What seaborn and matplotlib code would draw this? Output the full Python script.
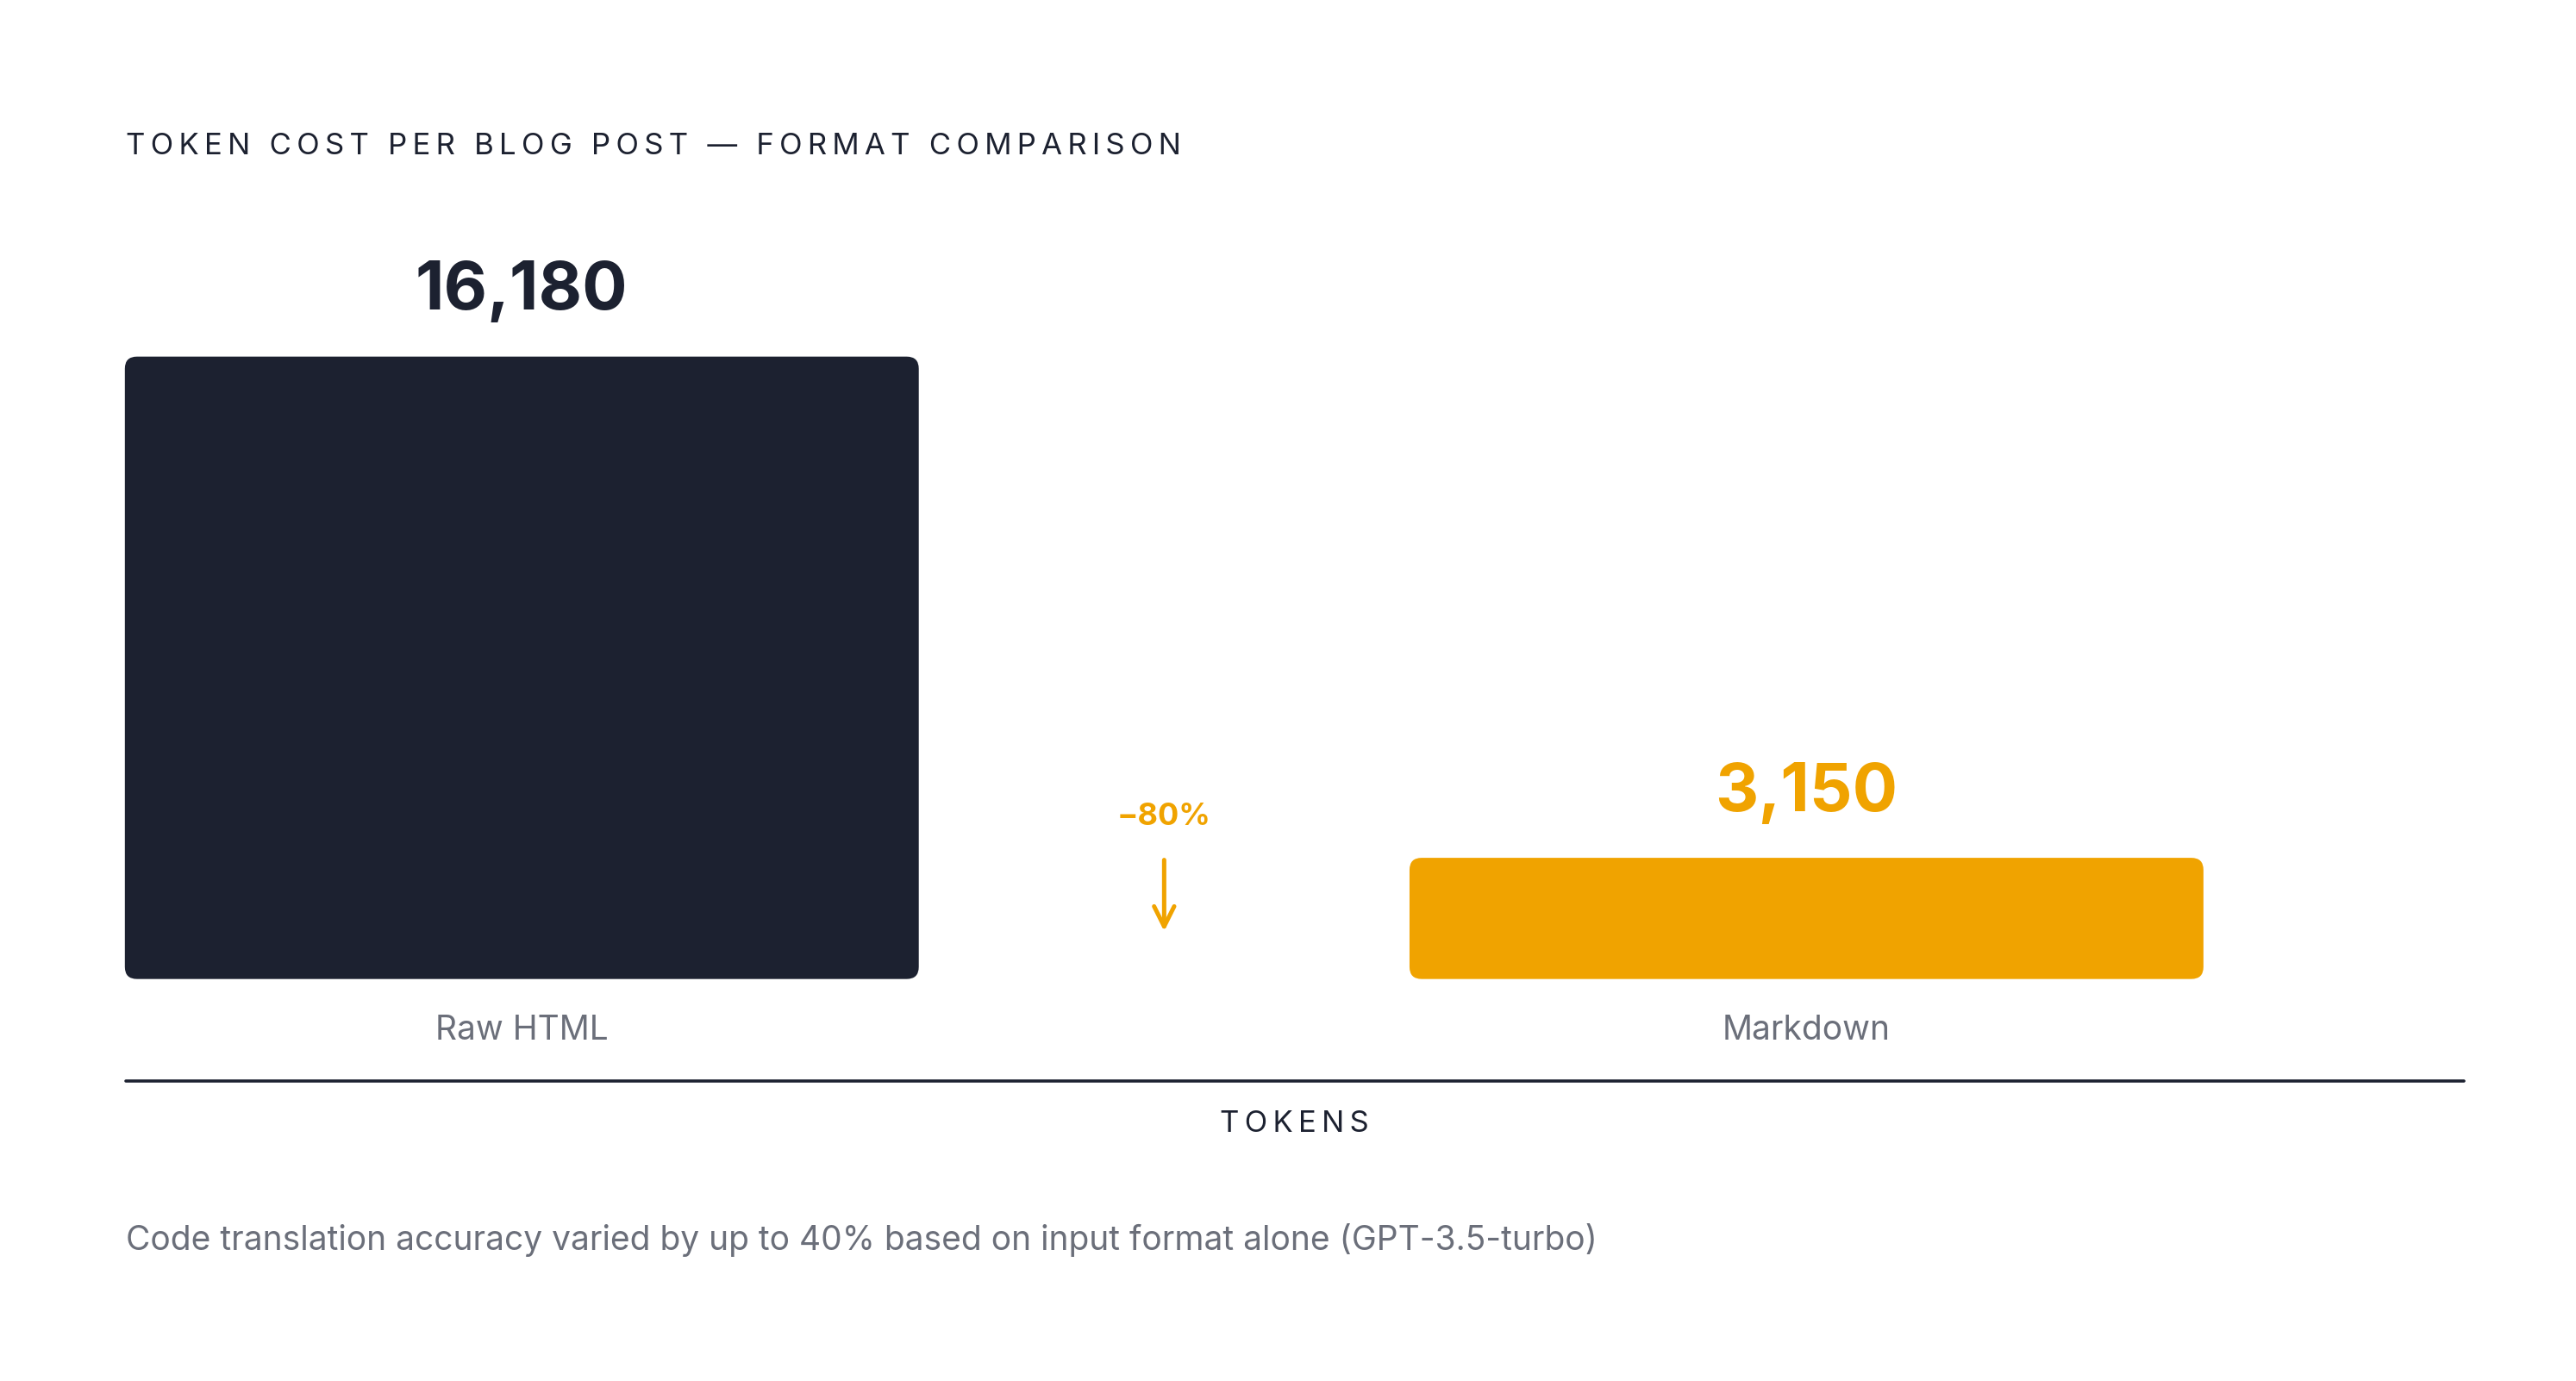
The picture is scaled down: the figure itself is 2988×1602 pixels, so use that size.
import matplotlib
matplotlib.use("Agg")
import matplotlib.pyplot as plt
import seaborn as sns
import pandas as pd
from matplotlib.patches import FancyBboxPatch
from matplotlib.lines import Line2D

categories = ["Raw HTML", "Markdown"]
tokens = [16180, 3150]
value_labels = ["16,180", "3,150"]
colors = ["#1c2130", "#f0a300"]
reduction_label = "−80%"

sns.set_theme(style="white")
plt.rcParams['font.family'] = ['Inter', 'DejaVu Sans']

W, H = 1560, 836.5
fig = plt.figure(figsize=(14.94, 8.01), dpi=200)
def fx(x): return x / W
def fy(y): return 1 - y / H

ax = fig.add_axes([fx(76), fy(593), fx(1492) - fx(76), fy(150) - fy(593)])
df = pd.DataFrame({"cat": categories, "tokens": tokens})
sns.barplot(data=df, x="cat", y="tokens", hue="cat", palette=colors, width=0.618,
            legend=False, ax=ax)
ax.set_xlim(-0.3085, 1.5116)
ax.set_ylim(0, 16180 * 443 / 377)
ax.axis("off")

fig.canvas.draw()
for p, c in zip(list(ax.patches), colors):
    x0, y0 = p.get_x(), p.get_y()
    (px0, py0) = ax.transData.transform((x0, y0))
    (px1, py1) = ax.transData.transform((x0 + p.get_width(), y0 + p.get_height()))
    p.set_visible(False)
    r = 14
    fb = FancyBboxPatch((px0 + r, py0 + r), px1 - px0 - 2 * r, py1 - py0 - 2 * r,
                        boxstyle=f"round,pad={r}", transform=None, fc=c, ec="none")
    fig.add_artist(fb)

for i, (v, lab, c) in enumerate(zip(tokens, value_labels, colors)):
    ax.text(i, v + 16180 * 20 / 377, lab, ha="center", va="bottom", fontsize=28,
            fontweight="bold", color=c)
    fig.text(fx([316, 1094][i]), fy(624), categories[i], ha="center", va="center",
             fontsize=14, color="#6b6f7a")

# reduction marker
fig.text(fx(705), fy(495), reduction_label, ha="center", va="center", fontsize=13,
         fontweight="bold", color="#f0a300")
ax.annotate("", xy=(fx(705), fy(567)), xytext=(fx(705), fy(518)),
            xycoords="figure fraction",
            arrowprops=dict(arrowstyle="->,head_width=0.35,head_length=0.7",
                            color="#f0a300", lw=1.8))

fig.add_artist(Line2D([fx(76), fx(1492)], [fy(655), fy(655)], color="#1c2130", lw=1.3))

def spaced(s):
    return "\u2009".join(s)

fig.text(fx(784), fy(681), spaced("TOKENS"), ha="center", va="center", fontsize=12.5,
         color="#1c2130")
fig.text(fx(76), fy(89), spaced("TOKEN COST PER BLOG POST — FORMAT COMPARISON"),
         ha="left", va="center", fontsize=12.5, color="#1c2130")
fig.text(fx(76), fy(751),
         "Code translation accuracy varied by up to 40% based on input format alone (GPT-3.5-turbo)",
         ha="left", va="center", fontsize=14, color="#6b6f7a")

fig.savefig("out.png", dpi=200, facecolor="white")
